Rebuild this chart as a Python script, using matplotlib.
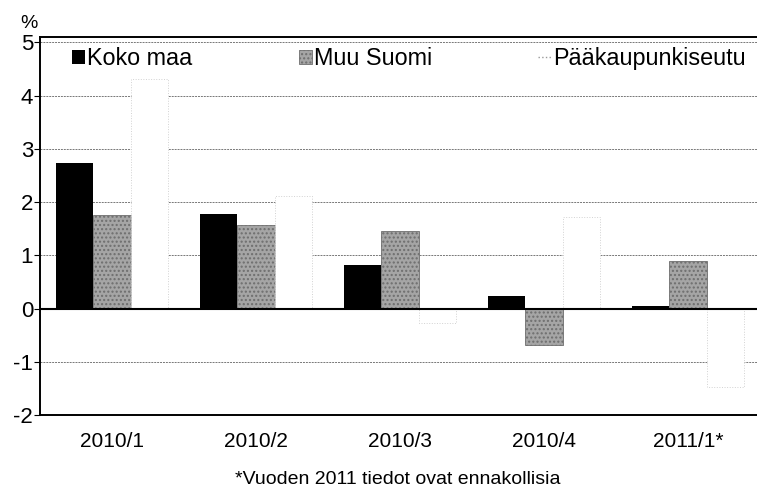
import matplotlib.pyplot as plt
from matplotlib.lines import Line2D
import numpy as np

plt.rcParams['font.family'] = ['Liberation Sans', 'DejaVu Sans']
plt.rcParams['axes.unicode_minus'] = False

categories = ['2010/1', '2010/2', '2010/3', '2010/4', '2011/1*']
koko_maa = [2.74, 1.78, 0.81, 0.23, 0.04]
muu_suomi = [1.76, 1.56, 1.46, -0.68, 0.90]
pk_seutu = [4.31, 2.12, -0.28, 1.72, -1.47]

fig = plt.figure(figsize=(7.57, 4.92), dpi=100)
ax = fig.add_axes([40/757, 1-415/492, 1-40/757, 378/492])

x = np.arange(len(categories))
w = 0.26
b1 = ax.bar(x - w, koko_maa, w, color='black', zorder=3)
b2 = ax.bar(x, muu_suomi, w, color='#a5a5a5', edgecolor='#6e6e6e', hatch='....',
            linewidth=0.6, zorder=3)
b3 = ax.bar(x + w, pk_seutu, w, color='white', edgecolor='#d2d2d2', linestyle=':',
            linewidth=0.7, zorder=3)

ax.set_xlim(-0.5, 4.48)
ax.set_ylim(-2, 5.1)
ax.set_yticks(range(-2, 6))
ax.set_xticks(x)
ax.set_xticklabels(categories, fontsize=15)
ax.tick_params(axis='x', length=0, pad=12)
ax.tick_params(axis='y', labelsize=16, length=4, width=0.8, direction='out', pad=1)
ax.yaxis.grid(True, linestyle=(0, (2, 1)), color='#777777', linewidth=0.7, zorder=0)
ax.axhline(0, color='black', linewidth=1.5, zorder=4)
for s in ['left', 'bottom', 'top']:
    ax.spines[s].set_linewidth(1.4)
ax.spines['right'].set_visible(False)

pk_handle = Line2D([], [], color='#999999', linestyle=':', linewidth=1)
leg = ax.legend([b1, b2, pk_handle], ['Koko maa', 'Muu Suomi', 'Pääkaupunkiseutu'],
                loc='upper left', bbox_to_anchor=(0.032, 0.998), ncol=3, frameon=False,
                fontsize=16.8, handlelength=0.55, handleheight=0.55, handletextpad=0.1,
                columnspacing=4.55, borderaxespad=0)

fig.text(20/757, 1-24/492, '%', fontsize=14, ha='left', va='center')
fig.text(398/757, 1-480/492, '*Vuoden 2011 tiedot ovat ennakollisia', fontsize=14,
         ha='center', va='center')

fig.savefig('out.png', dpi=100)
